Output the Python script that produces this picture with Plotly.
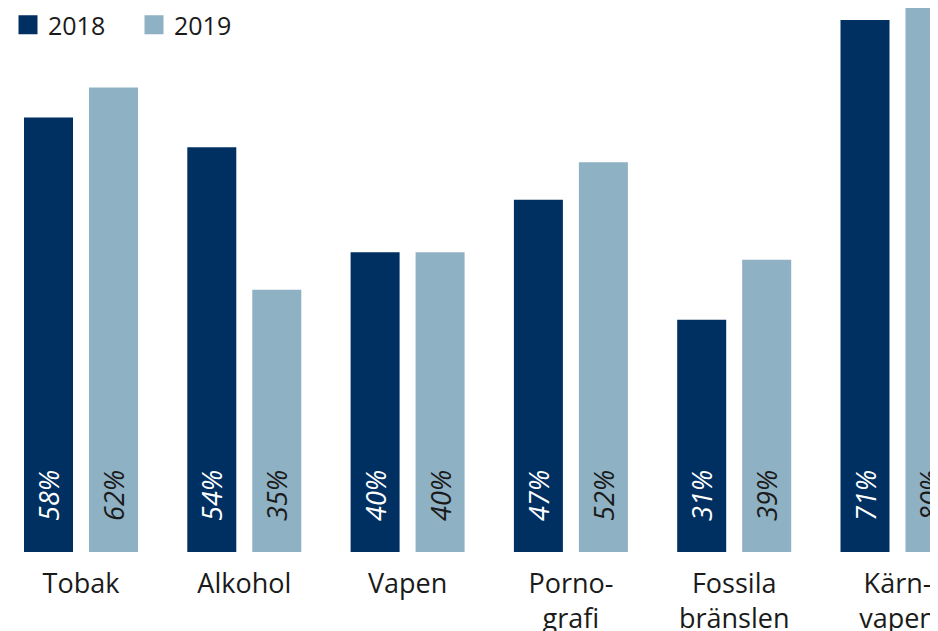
import plotly.graph_objects as go

categories = ["Tobak", "Alkohol", "Vapen", "Porno-<br>grafi", "Fossila<br>bränslen", "Kärn-<br>vapen"]
values_2018 = [58, 54, 40, 47, 31, 71]
values_2019 = [62, 35, 40, 52, 39, 80]
series_names = ["2018", "2019"]

COL_2018 = "#002F62"
COL_2019 = "#8EB1C4"
FONT = "Open Sans"
PAD = "\u00a0" * 4

def labels(vals):
    return [PAD + f"{v}%" for v in vals]

fig = go.Figure()
for name, vals, col, tcol in [(series_names[0], values_2018, COL_2018, "white"),
                              (series_names[1], values_2019, COL_2019, "#1a1a1a")]:
    fig.add_trace(go.Bar(
        x=categories, y=vals, name=name, marker=dict(color=col, line=dict(width=0)),
        text=labels(vals), textposition="inside", insidetextanchor="start",
        textangle=-90, textfont=dict(family=FONT, size=27, color=tcol, style="italic"),
        showlegend=False, hoverinfo="skip",
    ))
    fig.add_trace(go.Scatter(
        x=[None], y=[None], mode="markers", name=name,
        marker=dict(symbol="square", size=16, color=col, line=dict(color=col, width=3)),
    ))

fig.update_layout(
    width=938, height=631,
    margin=dict(l=0, r=0, t=0, b=87, autoexpand=False),
    paper_bgcolor="white", plot_bgcolor="white",
    barmode="group", bargap=0.204, bargroupgap=0.246,
    font=dict(family=FONT, size=25, color="#1a1a1a"),
    legend=dict(orientation="h", x=0, y=1.011, xanchor="left", yanchor="top",
                bgcolor="rgba(0,0,0,0)", font=dict(size=25, color="#1a1a1a"),
                entrywidth=81),
    uniformtext=dict(mode=False),
)
fig.update_xaxes(type="category", range=[-0.447, 5.297], showgrid=False,
                 showline=False, zeroline=False, ticks="", tickfont=dict(size=27),
                 ticklabelstandoff=13)
fig.update_yaxes(range=[0, 72.6], showgrid=False, showline=False, zeroline=False,
                 showticklabels=False, ticks="")

fig.write_html("out.html")
